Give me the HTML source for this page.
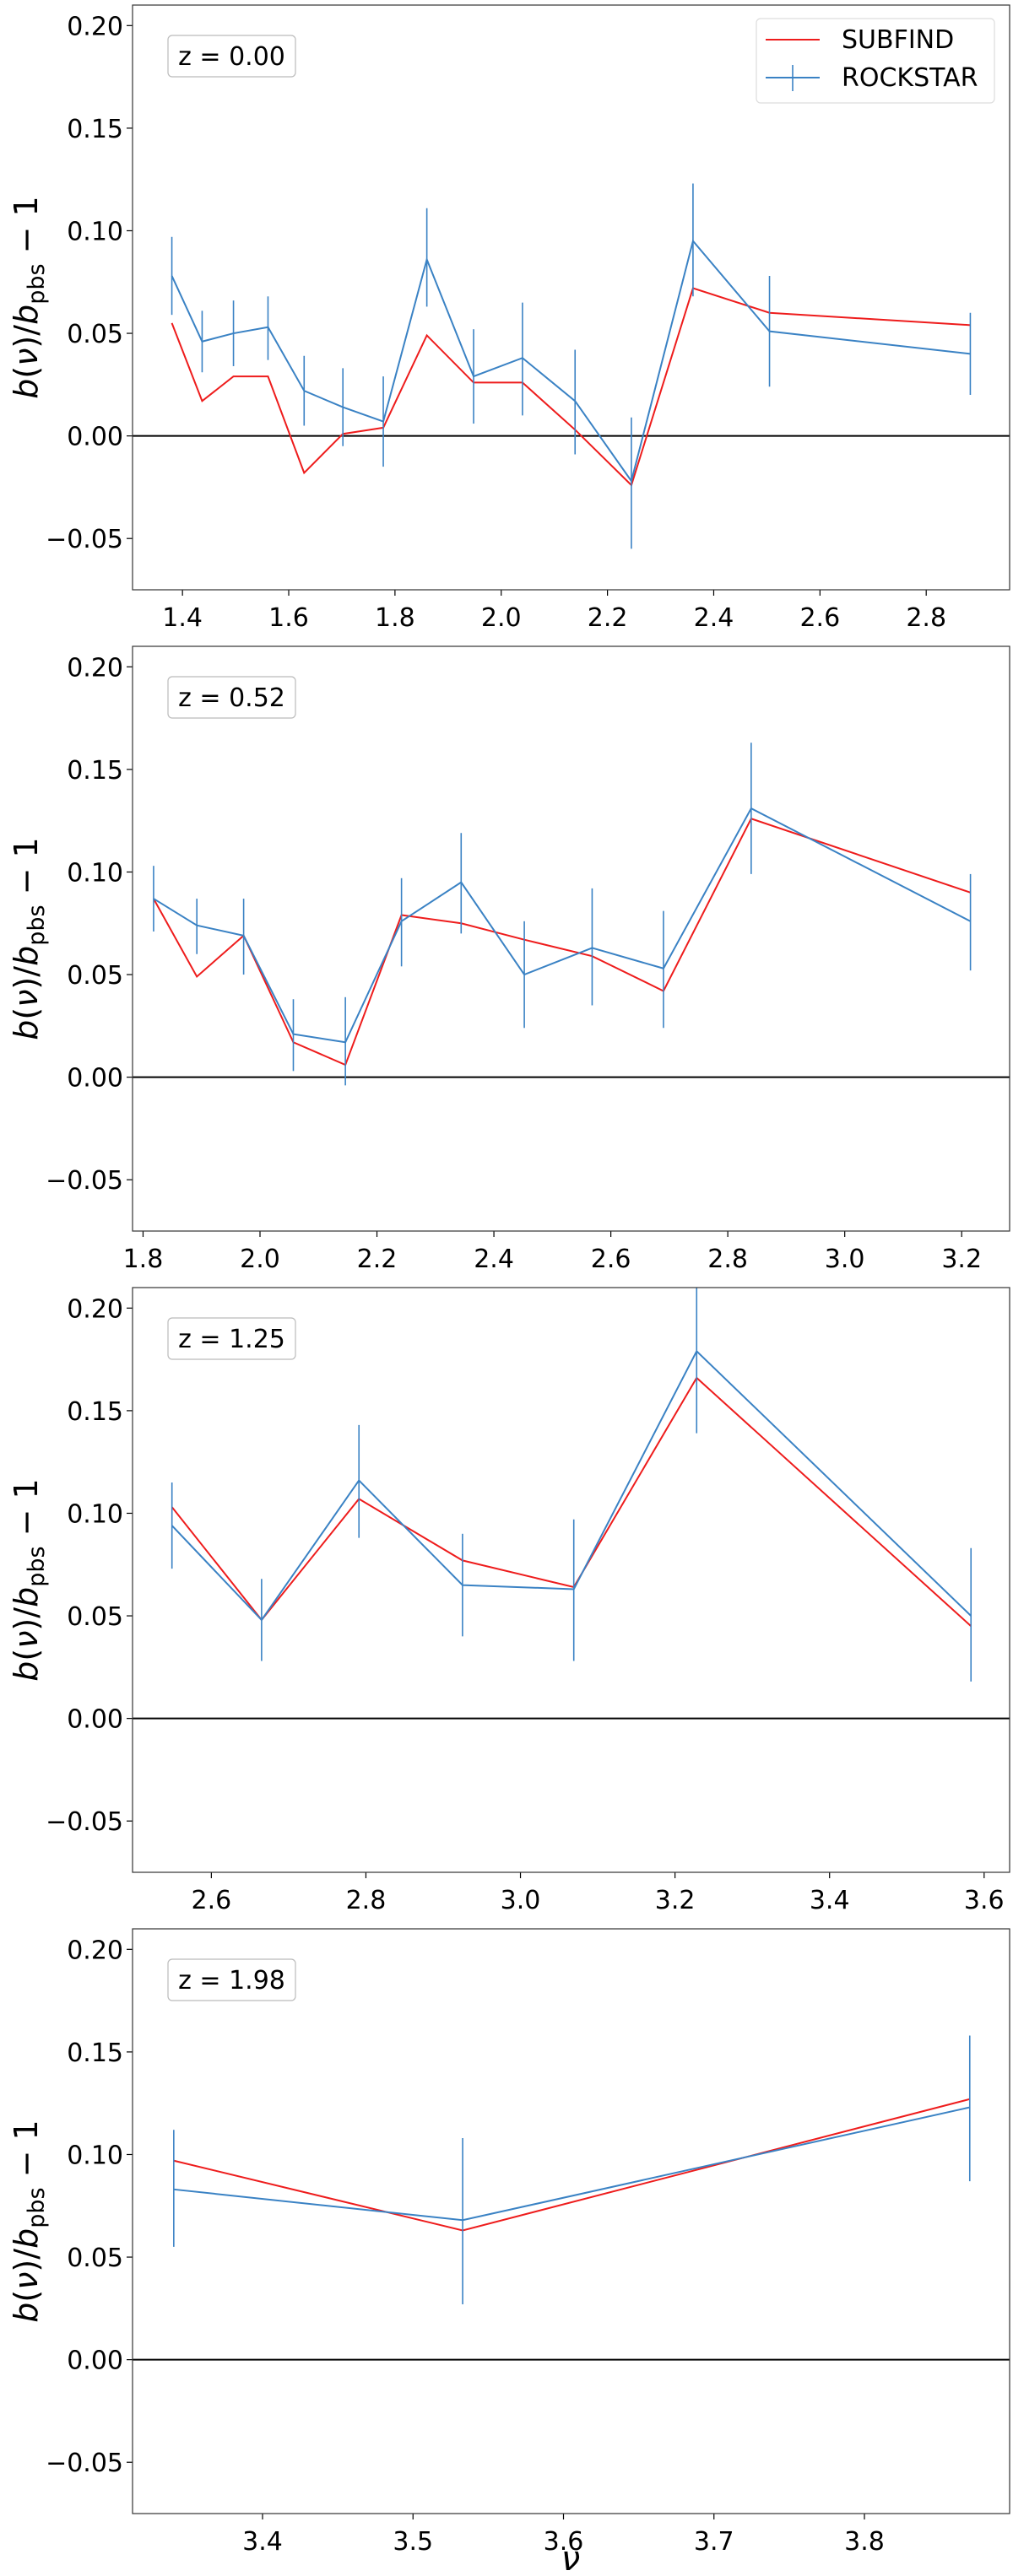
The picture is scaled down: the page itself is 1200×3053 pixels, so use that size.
<!DOCTYPE html>
<html><head><meta charset="utf-8"><style>
html,body{margin:0;padding:0;background:#fff;}
svg{display:block;font-family:"DejaVu Sans","Liberation Sans",sans-serif;}
</style></head><body>
<svg id="fig" width="1200" height="3053" viewBox="0 0 1200 3053" xmlns="http://www.w3.org/2000/svg"></svg>
<script>
// Panel data
const zLabels = ["z = 0.00", "z = 0.52", "z = 1.25", "z = 1.98"];
const nu0 = [1.380,1.437,1.496,1.561,1.629,1.702,1.778,1.860,1.948,2.040,2.139,2.245,2.361,2.505,2.883];
const sub0 = [0.055,0.017,0.029,0.029,-0.018,0.001,0.004,0.049,0.026,0.026,0.003,-0.024,0.072,0.060,0.054];
const rock0 = [0.078,0.046,0.050,0.053,0.022,0.014,0.007,0.086,0.029,0.038,0.017,-0.022,0.095,0.051,0.040];
const rockHi0 = [0.097,0.061,0.066,0.068,0.039,0.033,0.029,0.111,0.052,0.065,0.042,0.009,0.123,0.078,0.060];
const rockLo0 = [0.059,0.031,0.034,0.037,0.005,-0.005,-0.015,0.063,0.006,0.010,-0.009,-0.055,0.068,0.024,0.020];

const nu1 = [1.818,1.892,1.972,2.057,2.146,2.242,2.344,2.452,2.568,2.690,2.840,3.215];
const sub1 = [0.087,0.049,0.069,0.017,0.006,0.079,0.075,0.067,0.059,0.042,0.126,0.090];
const rock1 = [0.087,0.074,0.069,0.021,0.017,0.076,0.095,0.050,0.063,0.053,0.131,0.076];
const rockHi1 = [0.103,0.087,0.087,0.038,0.039,0.097,0.119,0.076,0.092,0.081,0.163,0.099];
const rockLo1 = [0.071,0.060,0.050,0.003,-0.004,0.054,0.070,0.024,0.035,0.024,0.099,0.052];

const nu2 = [2.549,2.665,2.791,2.925,3.069,3.228,3.583];
const sub2 = [0.103,0.048,0.107,0.077,0.064,0.166,0.045];
const rock2 = [0.094,0.048,0.116,0.065,0.063,0.179,0.050];
const rockHi2 = [0.115,0.068,0.143,0.090,0.097,0.220,0.083];
const rockLo2 = [0.073,0.028,0.088,0.040,0.028,0.139,0.018];

const nu3 = [3.341,3.533,3.870];
const sub3 = [0.097,0.063,0.127];
const rock3 = [0.083,0.068,0.123];
const rockHi3 = [0.112,0.108,0.158];
const rockLo3 = [0.055,0.027,0.087];

const xDomains = [[1.306,2.957],[1.782,3.282],[2.498,3.633],[3.3136,3.8965]];
const xTicks = [[1.4,1.6,1.8,2.0,2.2,2.4,2.6,2.8],[1.8,2.0,2.2,2.4,2.6,2.8,3.0,3.2],[2.6,2.8,3.0,3.2,3.4,3.6],[3.4,3.5,3.6,3.7,3.8]];
const yTicks = [-0.05,0.00,0.05,0.10,0.15,0.20];
const yDomain = [-0.075,0.21];

const NS="http://www.w3.org/2000/svg";
const svg=document.getElementById('fig');
function mk(tag,attrs,parent){const e=document.createElementNS(NS,tag);for(const k in attrs)e.setAttribute(k,attrs[k]);(parent||svg).appendChild(e);return e;}

const L=157,R=1196,H=693;
const panels=[[nu0,sub0,rock0,rockHi0,rockLo0],[nu1,sub1,rock1,rockHi1,rockLo1],[nu2,sub2,rock2,rockHi2,rockLo2],[nu3,sub3,rock3,rockHi3,rockLo3]];
panels.forEach((p,i)=>{
  const top=6+760*i, bot=top+H;
  const xd=xDomains[i];
  const X=v=>L+(v-xd[0])/(xd[1]-xd[0])*(R-L);
  const Y=v=>bot-(v-yDomain[0])/(yDomain[1]-yDomain[0])*H;
  const g=mk('g',{});
  
  
  const cp=mk('clipPath',{id:'cp'+i},g);
  mk('rect',{x:L,y:top,width:R-L,height:H},cp);
  // y ticks
  yTicks.forEach(t=>{
    const y=Y(t);
    mk('line',{x1:L-7,x2:L,y1:y,y2:y,stroke:'#000','stroke-width':1.2},g);
    const tx=mk('text',{x:146,y:y+11,'text-anchor':'end','font-size':30,fill:'#000'},g);
    
    
    tx.textContent=(t<0?'\u2212':'')+Math.abs(t).toFixed(2);
  });
  xTicks[i].forEach(t=>{
    const x=X(t);
    mk('line',{x1:x,x2:x,y1:bot,y2:bot+7,stroke:'#000','stroke-width':1.2},g);
    const tx=mk('text',{x:x,y:bot+43,'text-anchor':'middle','font-size':30,fill:'#000'},g);
    
    
    tx.textContent=t.toFixed(i===3?1:1);
  });
  // zero line
  const zl=mk('line',{x1:L,x2:R,y1:Y(0),y2:Y(0),stroke:'#000','stroke-width':2},g);
  
  
  const pg=mk('g',{'clip-path':'url(#cp'+i+')'},g);
  const [nu,sub,rock,hi,lo]=p;
  const rl=mk('polyline',{points:nu.map((v,k)=>X(v)+','+Y(sub[k])).join(' '),fill:'none',stroke:'#ee1c1c','stroke-width':2},pg);
  
  
  const bl=mk('polyline',{points:nu.map((v,k)=>X(v)+','+Y(rock[k])).join(' '),fill:'none',stroke:'#3a82c4','stroke-width':2},pg);
  
  
  nu.forEach((v,k)=>{
    const e=mk('line',{x1:X(v),x2:X(v),y1:Y(hi[k]),y2:Y(lo[k]),stroke:'#3a82c4','stroke-width':1.6},pg);
    
    
  });
  // frame
  const fr=mk('rect',{x:L,y:top,width:R-L,height:H,fill:'none',stroke:'#333','stroke-width':1.2},g);
  
  
  // z box
  const zb=mk('rect',{x:199,y:top+36,width:151,height:49,rx:5,fill:'#fff',stroke:'#bbb','stroke-width':1.2},g);
  
  
  const zt=mk('text',{x:274.5,y:top+71,'text-anchor':'middle','font-size':30,fill:'#000'},g);
  
  
  zt.textContent=zLabels[i];
  // y label
  const yl=mk('text',{transform:'translate(44,'+(top+H/2)+') rotate(-90)','text-anchor':'middle','font-size':38,fill:'#000'},g);
  
  
  yl.innerHTML='<tspan font-style="italic">b</tspan>(<tspan font-style="italic">ν</tspan>)/<tspan font-style="italic">b</tspan><tspan font-size="27" dy="8">pbs</tspan><tspan dy="-8"> − 1</tspan>';
});
// legend
const lg=mk('g',{});


mk('rect',{x:896,y:22,width:282,height:100,rx:5,fill:'#fff',stroke:'#ddd','stroke-width':1.2},lg);
mk('line',{x1:907,x2:971,y1:47,y2:47,stroke:'#ee1c1c','stroke-width':2},lg);
mk('line',{x1:907,x2:971,y1:92,y2:92,stroke:'#3a82c4','stroke-width':2},lg);
mk('line',{x1:939,x2:939,y1:77,y2:108,stroke:'#3a82c4','stroke-width':1.6},lg);
const t1=mk('text',{x:997,y:57,'font-size':30,fill:'#000'},lg);


t1.textContent='SUBFIND';
const t2=mk('text',{x:997,y:102,'font-size':30,fill:'#000'},lg);


t2.textContent='ROCKSTAR';
const xl=mk('text',{x:676,y:3046,'text-anchor':'middle','font-size':40,'font-style':'italic',fill:'#000'});


xl.textContent='ν';
</script>
</body></html>
